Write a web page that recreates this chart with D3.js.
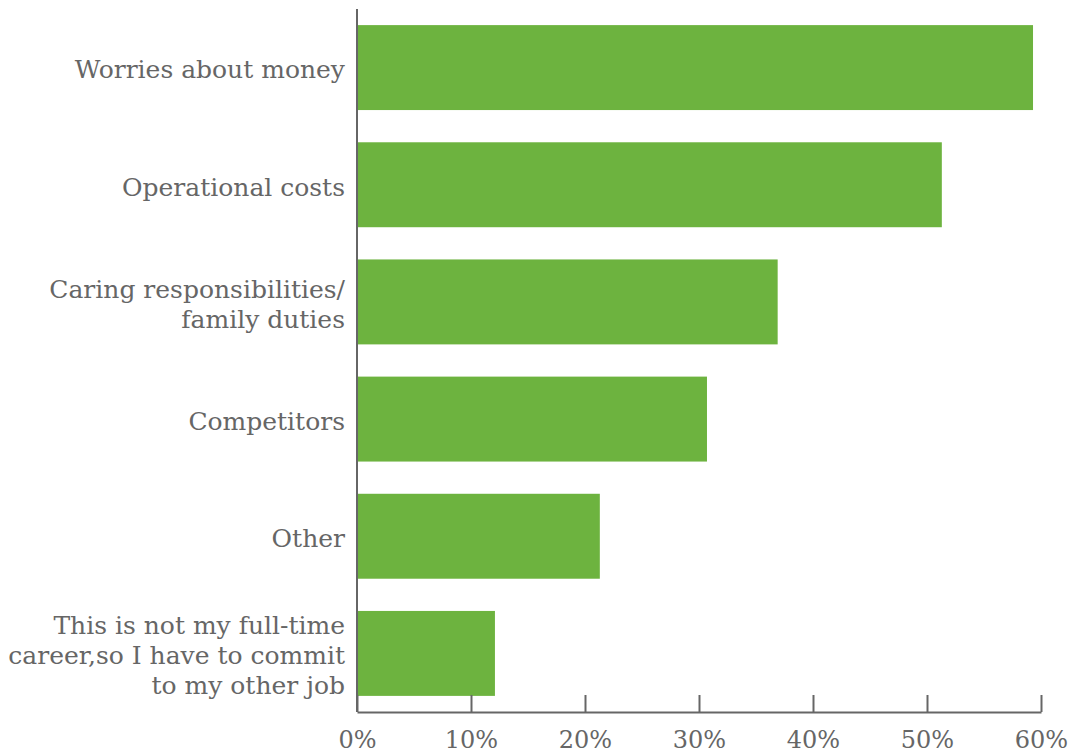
<!DOCTYPE html>
<html>
<head>
<meta charset="utf-8">
<script src="https://cdn.jsdelivr.net/npm/d3@7"></script>
<style>
  html, body { margin: 0; padding: 0; background: #fff; }
  svg { display: block; }
  text { font-family: "DejaVu Serif", serif; fill: #666; }
</style>
</head>
<body>
<svg id="chart" width="1075" height="756"></svg>
<script>
// Barriers reported, share of respondents
const categories = [
  ["Worries about money"],
  ["Operational costs"],
  ["Caring responsibilities/", "family duties"],
  ["Competitors"],
  ["Other"],
  ["This is not my full-time", "career,so I have to commit", "to my other job"]
];
const values = [59.3, 51.3, 36.9, 30.7, 21.3, 12.1];
const tickValues = [0, 10, 20, 30, 40, 50, 60];

const margin = { top: 9, right: 34, bottom: 44, left: 357 };
const width = 1075, height = 756;

const svg = d3.select("#chart");

const x = d3.scaleLinear()
  .domain([0, 60])
  .range([margin.left, width - margin.right]);

const y = d3.scaleBand()
  .domain(d3.range(categories.length))
  .range([margin.top, height - margin.bottom])
  .paddingInner(0.275)
  .paddingOuter(0.1375);

// bars
svg.append("g")
  .selectAll("rect")
  .data(values)
  .join("rect")
  .attr("x", x(0))
  .attr("y", (d, i) => y(i))
  .attr("width", d => x(d) - x(0))
  .attr("height", y.bandwidth())
  .attr("fill", "#6db33f");

// x axis with ticks pointing up into the plot
const xAxis = svg.append("g")
  .attr("transform", `translate(0,${height - margin.bottom})`)
  .call(d3.axisBottom(x).tickValues(tickValues).tickFormat(d => d + "%").tickSizeInner(-17).tickSizeOuter(0).tickPadding(19));
xAxis.select(".domain").attr("stroke", "#666").attr("stroke-width", 2);
xAxis.selectAll(".tick line").attr("stroke", "#666").attr("stroke-width", 2);
xAxis.selectAll(".tick text")
  .attr("font-size", 24)
  .attr("font-family", "DejaVu Serif, serif")
  .attr("fill", "#666");

// y axis line
svg.append("line")
  .attr("x1", x(0)).attr("x2", x(0))
  .attr("y1", margin.top).attr("y2", height - margin.bottom)
  .attr("stroke", "#666").attr("stroke-width", 2);

// category labels
const lineH = 30;
const labels = svg.append("g")
  .selectAll("text")
  .data(categories)
  .join("text")
  .attr("text-anchor", "end")
  .attr("font-size", 25)
  .attr("transform", (d, i) => {
    const cy = y(i) + y.bandwidth() / 2 + 2;
    const y0 = cy - (d.length - 1) * lineH / 2;
    return `translate(${x(0) - 12},${y0})`;
  });
labels.selectAll("tspan")
  .data(d => d)
  .join("tspan")
  .attr("x", 0)
  .attr("dy", (d, j) => j === 0 ? "0.35em" : lineH)
  .text(d => d);
</script>
</body>
</html>
